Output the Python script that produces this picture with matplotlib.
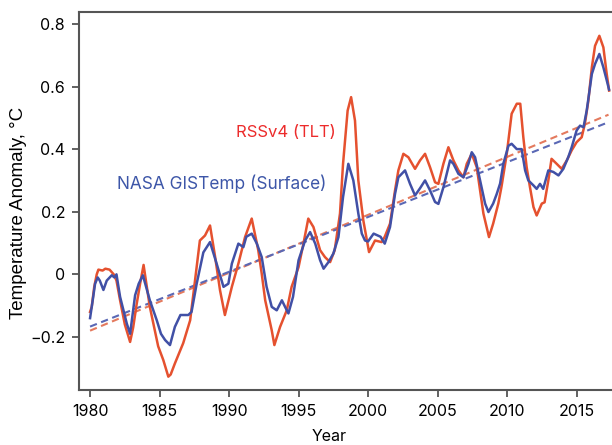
import numpy as np
import matplotlib
matplotlib.use("Agg")
import matplotlib.pyplot as plt

# RSSv4 (TLT)
rss_years = [1980.0, 1980.12, 1980.3, 1980.48, 1980.6, 1980.9, 1981.1, 1981.4, 1981.7, 1981.9,
             1982.16, 1982.5, 1982.88, 1983.1, 1983.36, 1983.6, 1983.85, 1984.05, 1984.3, 1984.9,
             1985.27, 1985.63, 1985.8, 1986.1, 1986.7, 1987.2, 1987.55, 1987.9, 1988.27, 1988.63,
             1989.0, 1989.35, 1989.7, 1990.2, 1990.67, 1991.15, 1991.63, 1992.1, 1992.35, 1992.6,
             1993.07, 1993.26, 1993.67, 1994.15, 1994.5, 1995.0, 1995.35, 1995.7, 1996.07, 1996.55,
             1996.9, 1997.27, 1997.6, 1997.98, 1998.2, 1998.53, 1998.78, 1999.06, 1999.3, 1999.66,
             2000.07, 2000.5, 2000.98, 2001.2, 2001.58, 2001.94, 2002.18, 2002.54, 2002.9, 2003.38,
             2003.74, 2004.1, 2004.46, 2004.82, 2005.06, 2005.42, 2005.78, 2006.14, 2006.5, 2006.86,
             2007.1, 2007.46, 2007.82, 2008.06, 2008.3, 2008.7, 2009.0, 2009.37, 2009.6, 2009.98,
             2010.33, 2010.7, 2010.95, 2011.17, 2011.41, 2011.65, 2011.9, 2012.13, 2012.5, 2012.7,
             2012.97, 2013.2, 2013.57, 2013.93, 2014.3, 2014.65, 2015.0, 2015.37, 2015.6, 2015.85,
             2016.1, 2016.33, 2016.64, 2016.93, 2017.17, 2017.34]
rss_vals = [-0.12, -0.104, -0.04, 0.0, 0.015, 0.012, 0.018, 0.015, 0.0, -0.02,
            -0.083, -0.16, -0.216, -0.17, -0.093, -0.03, 0.03, -0.03, -0.104, -0.23,
            -0.274, -0.327, -0.32, -0.285, -0.22, -0.147, -0.02, 0.108, 0.124, 0.156,
            0.055, -0.051, -0.13, -0.04, 0.034, 0.119, 0.178, 0.077, 0.002, -0.083,
            -0.179, -0.226, -0.168, -0.115, -0.04, 0.023, 0.098, 0.178, 0.151, 0.077,
            0.055, 0.039, 0.077, 0.194, 0.353, 0.523, 0.566, 0.491, 0.30, 0.172,
            0.071, 0.108, 0.103, 0.12, 0.162, 0.268, 0.332, 0.385, 0.374, 0.337,
            0.364, 0.385, 0.342, 0.294, 0.289, 0.353, 0.406, 0.364, 0.332, 0.31,
            0.353, 0.385, 0.342, 0.268, 0.194, 0.119, 0.162, 0.226, 0.28, 0.385,
            0.513, 0.545, 0.545, 0.438, 0.342, 0.278, 0.215, 0.188, 0.226, 0.23,
            0.30, 0.369, 0.353, 0.337, 0.364, 0.396, 0.422, 0.438, 0.481, 0.555,
            0.661, 0.73, 0.762, 0.725, 0.64, 0.587]

# NASA GISTemp (Surface)
giss_years = [1980.0, 1980.2, 1980.36, 1980.55, 1980.7, 1980.96, 1981.2, 1981.56, 1981.75, 1981.9,
              1982.16, 1982.64, 1982.88, 1983.24, 1983.5, 1983.8, 1984.3, 1984.8, 1985.1, 1985.4,
              1985.75, 1986.1, 1986.5, 1987.07, 1987.3, 1987.67, 1988.15, 1988.63, 1989.1, 1989.6,
              1989.95, 1990.2, 1990.67, 1991.03, 1991.24, 1991.63, 1992.0, 1992.35, 1992.7, 1993.07,
              1993.43, 1993.8, 1994.03, 1994.27, 1994.6, 1995.0, 1995.47, 1995.83, 1996.2, 1996.55,
              1996.8, 1997.15, 1997.5, 1997.87, 1998.2, 1998.58, 1998.94, 1999.3, 1999.55, 1999.78,
              2000.0, 2000.4, 2000.9, 2001.2, 2001.58, 2001.94, 2002.18, 2002.66, 2003.02, 2003.38,
              2003.74, 2004.1, 2004.46, 2004.82, 2005.06, 2005.42, 2005.9, 2006.14, 2006.5, 2006.86,
              2007.22, 2007.46, 2007.7, 2008.06, 2008.42, 2008.66, 2009.0, 2009.26, 2009.5, 2009.73,
              2010.1, 2010.33, 2010.7, 2011.05, 2011.3, 2011.53, 2011.9, 2012.13, 2012.37, 2012.6,
              2012.97, 2013.33, 2013.7, 2014.05, 2014.4, 2014.65, 2015.0, 2015.25, 2015.5, 2015.73,
              2016.1, 2016.33, 2016.64, 2016.93, 2017.17, 2017.34]
giss_vals = [-0.14, -0.08, -0.03, -0.01, -0.02, -0.05, -0.02, -0.003, -0.01, 0.0,
             -0.072, -0.157, -0.19, -0.067, -0.03, -0.003, -0.083, -0.147, -0.19, -0.21,
             -0.226, -0.168, -0.13, -0.13, -0.12, -0.03, 0.07, 0.103, 0.035, -0.04,
             -0.03, 0.034, 0.098, 0.087, 0.12, 0.13, 0.098, 0.055, -0.04, -0.104,
             -0.115, -0.083, -0.104, -0.125, -0.072, 0.045, 0.108, 0.135, 0.098, 0.045,
             0.018, 0.039, 0.066, 0.119, 0.247, 0.353, 0.30, 0.194, 0.13, 0.108,
             0.105, 0.13, 0.12, 0.098, 0.151, 0.257, 0.31, 0.332, 0.289, 0.252,
             0.275, 0.30, 0.268, 0.231, 0.225, 0.278, 0.364, 0.353, 0.321, 0.31,
             0.353, 0.39, 0.374, 0.30, 0.226, 0.199, 0.226, 0.257, 0.29, 0.353,
             0.411, 0.417, 0.40, 0.40, 0.332, 0.30, 0.284, 0.273, 0.289, 0.273,
             0.332, 0.327, 0.316, 0.337, 0.374, 0.406, 0.459, 0.475, 0.47, 0.523,
             0.64, 0.672, 0.704, 0.661, 0.62, 0.59]

# linear trends (end points)
trend_years = [1980.0, 2017.3]
rss_trend = [-0.18, 0.51]
giss_trend = [-0.167, 0.486]

xticks = [1980, 1985, 1990, 1995, 2000, 2005, 2010, 2015]
yticks = [-0.2, 0, 0.2, 0.4, 0.6, 0.8]
ytick_labels = ["\u22120.2", "0", "0.2", "0.4", "0.6", "0.8"]

red = "#e5512f"
blue = "#4150a6"

fig = plt.figure(figsize=(6.12, 4.45), dpi=100)
ax = fig.add_axes([0.129, 0.124, 0.871, 0.849])

ax.plot(trend_years, rss_trend, color="#e47a5e", lw=1.5, dashes=(3.5, 2.2))
ax.plot(trend_years, giss_trend, color="#5a68b5", lw=1.5, dashes=(3.5, 2.2))
ax.plot(rss_years, rss_vals, color=red, lw=1.8)
ax.plot(giss_years, giss_vals, color=blue, lw=1.8)

ax.text(1994.1, 0.453, "RSSv4 (TLT)", color="#ec2b2b", fontsize=12,
        family="Inter", ha="center", va="center")
ax.text(1989.5, 0.29, "NASA GISTemp (Surface)", color="#3d56a8", fontsize=12.4,
        family="Inter", ha="center", va="center")

ax.set_xlim(1979.2, 2017.55)
ax.set_ylim(-0.369, 0.838)
ax.set_xticks(xticks)
ax.set_yticks(yticks)
ax.set_yticklabels(ytick_labels)

for lab in ax.get_xticklabels() + ax.get_yticklabels():
    lab.set_family("Inter")
    lab.set_fontsize(11.5)

ax.tick_params(direction="out", length=5, width=1.3, color="#555555", pad=5)
ax.spines["right"].set_visible(False)
for s in ["left", "top", "bottom"]:
    ax.spines[s].set_color("#555555")
    ax.spines[s].set_linewidth(1.5)

ax.set_xlabel("Year", family="Inter", fontsize=11.5)
ax.xaxis.set_label_coords(0.47, -0.105)
ax.set_ylabel("Temperature Anomaly, \u00b0C", family="Liberation Sans", fontsize=13.5)
ax.yaxis.set_label_coords(-0.098, 0.468)

fig.savefig("out.png", dpi=100)
